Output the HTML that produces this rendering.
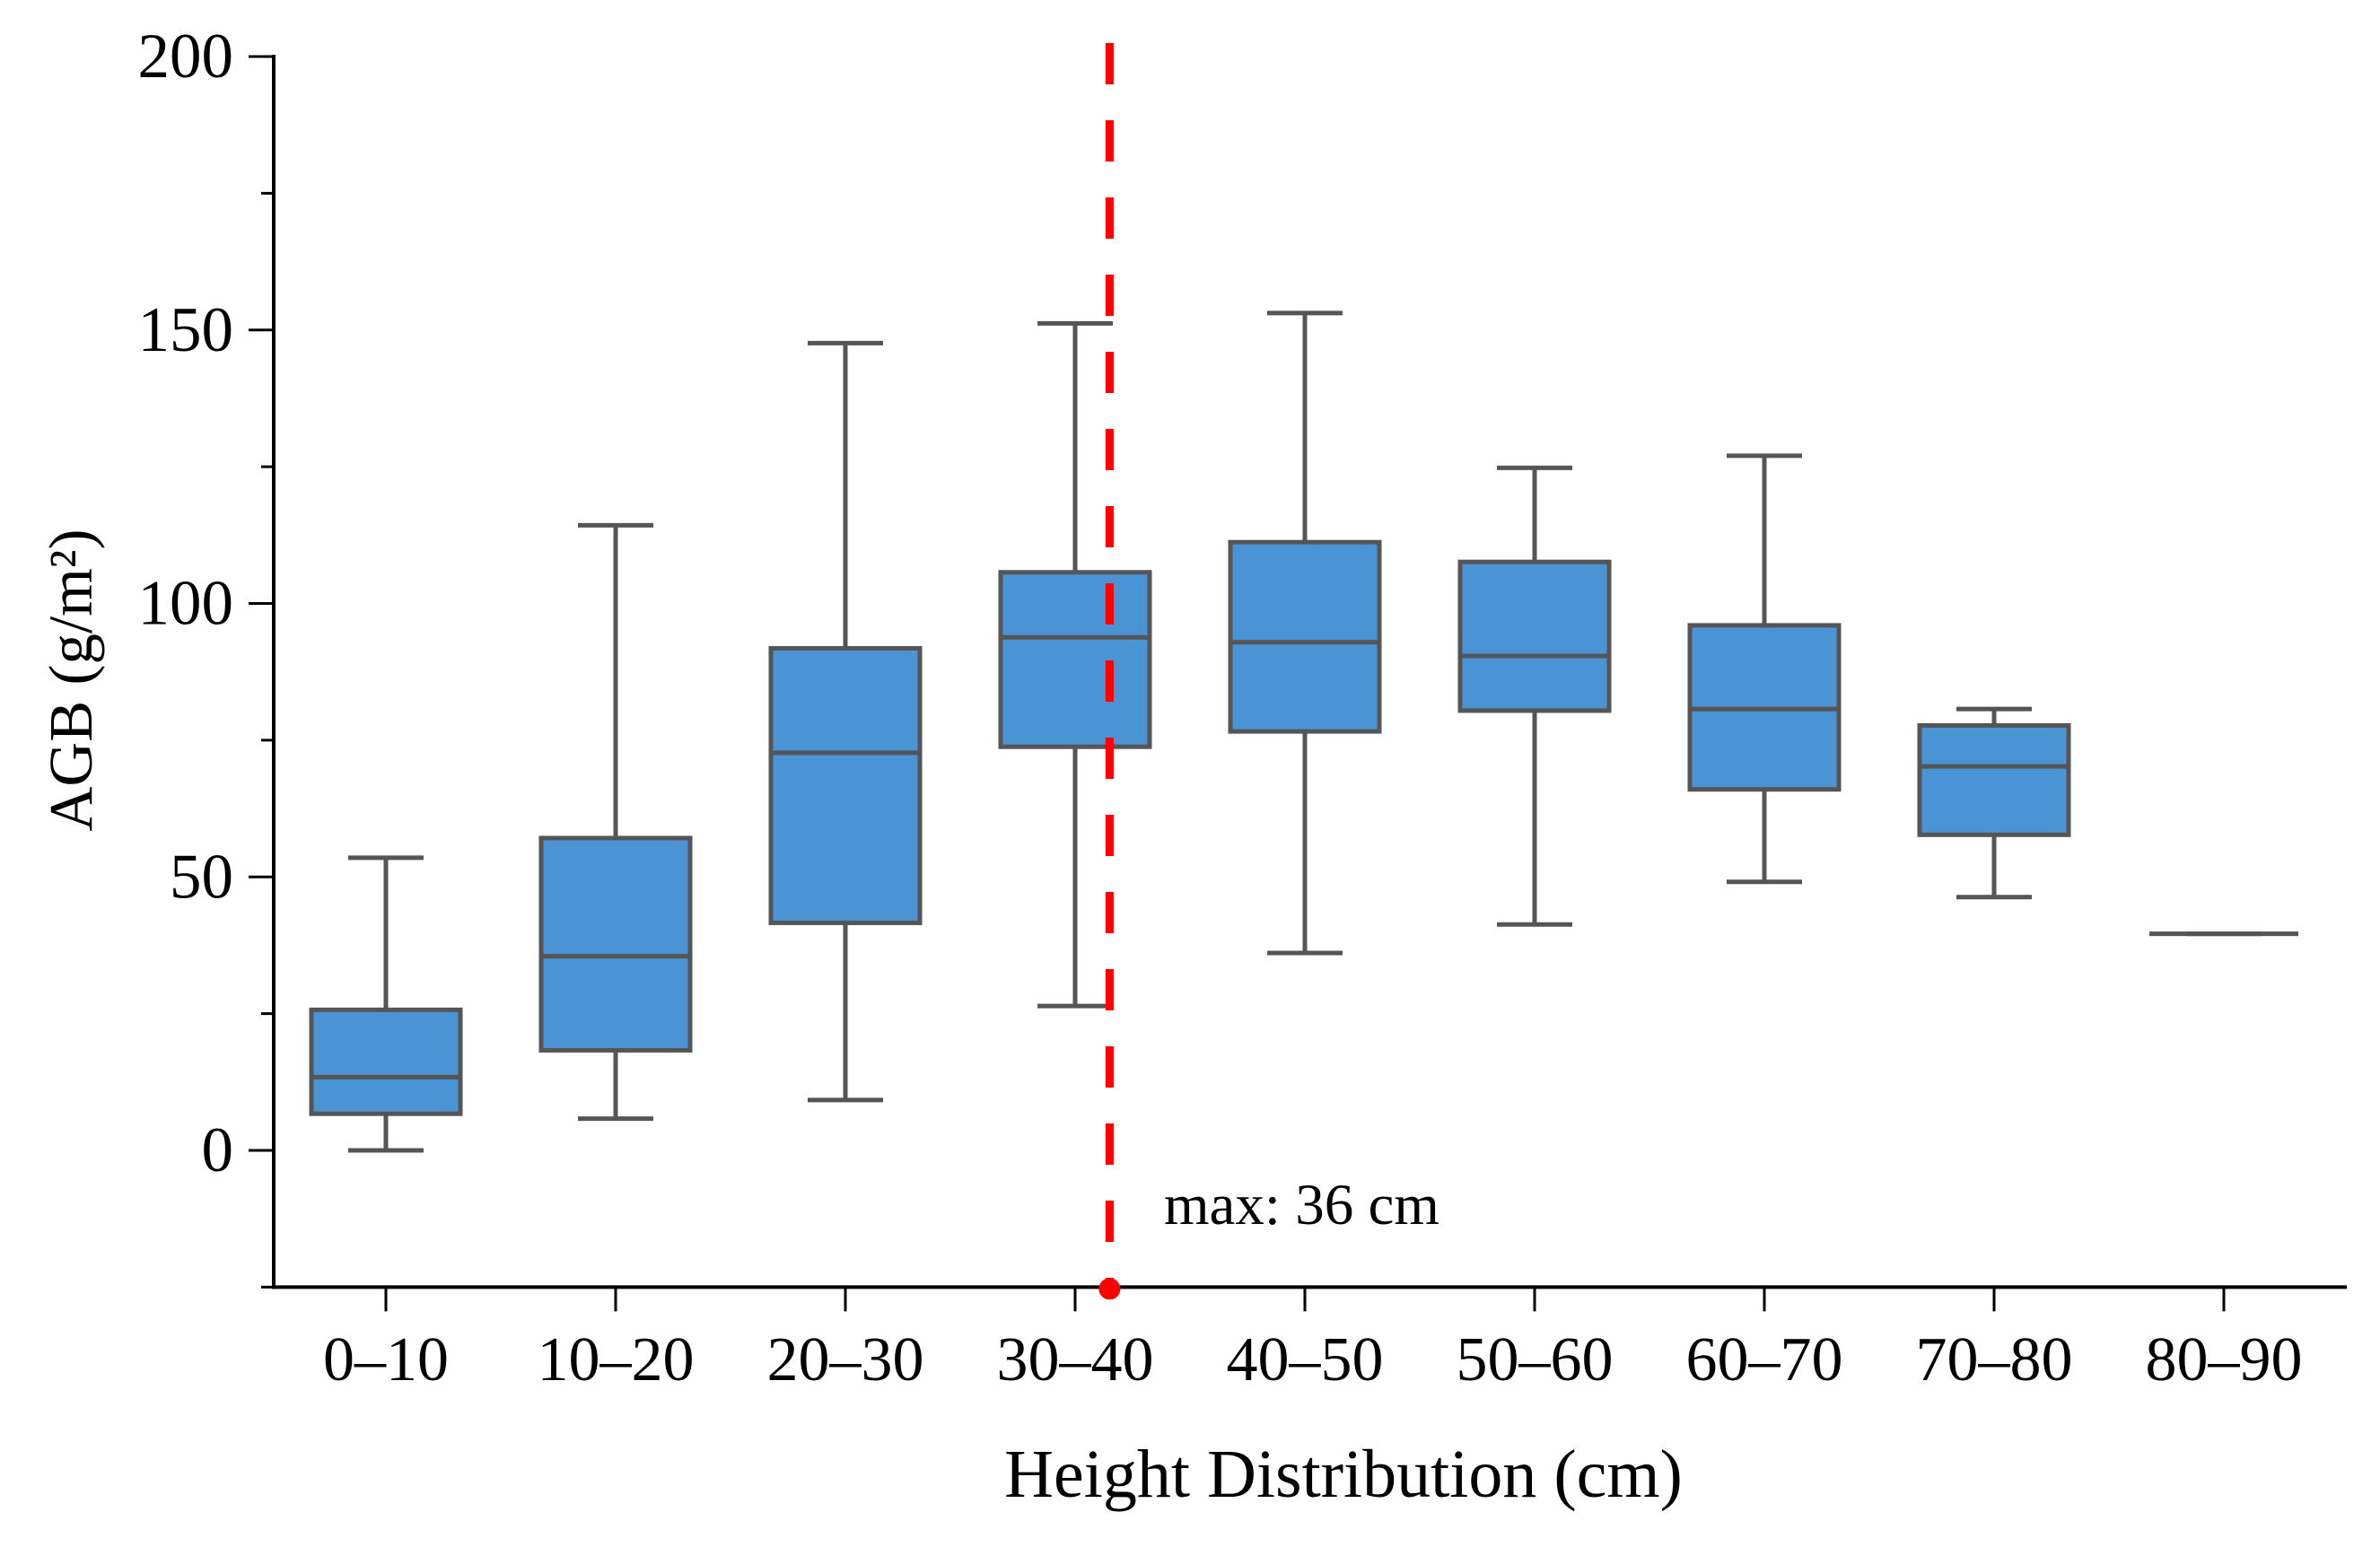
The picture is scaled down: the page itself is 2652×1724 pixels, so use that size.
<!DOCTYPE html>
<html><head><meta charset="utf-8"><style>
html,body{margin:0;padding:0;background:#fff;}
svg{display:block;font-family:"Liberation Serif",serif;}
</style></head><body>
<svg id="chart" width="2652" height="1724" viewBox="0 0 2652 1724" xmlns="http://www.w3.org/2000/svg">
<g id="axes"></g>
<g id="boxes"></g>
<g id="annot"></g>
</svg>
<script>
const categories = ["0–10","10–20","20–30","30–40","40–50","50–60","60–70","70–80","80–90"];
const whiskerLow = [0, 5.8, 9.2, 26.4, 36.1, 41.3, 49.1, 46.3, 39.6];
const q1Values = [6.7, 18.3, 41.6, 73.8, 76.6, 80.4, 66.0, 57.7, 39.6];
const medianValues = [13.4, 35.5, 72.7, 93.8, 92.9, 90.4, 80.7, 70.2, 39.6];
const q3Values = [25.7, 57.1, 91.8, 105.7, 111.2, 107.6, 96.0, 77.7, 39.6];
const whiskerHigh = [53.5, 114.3, 147.6, 151.2, 153.1, 124.8, 127.0, 80.7, 39.6];
const yTicks = [0, 50, 100, 150, 200];
const yMinorTicks = [-25, 25, 75, 125, 175];
const maxHeight = 36;

const NS = "http://www.w3.org/2000/svg";
const y0px = 1282, pxPerUnit = 6.095;
const yScale = v => y0px - v * pxPerUnit;
const x0 = 430, step = 256;
const xScale = i => x0 + i * step;
const xCont = h => x0 + (h - 4.5) / 10 * step;
const axisX = 305, axisBottom = yScale(-25), axisRight = 2615;

function mk(tag, attrs, parent, text) {
  const e = document.createElementNS(NS, tag);
  for (const k in attrs) e.setAttribute(k, attrs[k]);
  if (text !== undefined) e.textContent = text;
  parent.appendChild(e);
  return e;
}
const axes = document.getElementById("axes");
const boxes = document.getElementById("boxes");
const annot = document.getElementById("annot");

let e = mk("line", {x1: axisX, y1: yScale(200) - 2, x2: axisX, y2: axisBottom + 2, stroke: "#000", "stroke-width": 4}, axes);


e = mk("line", {x1: axisX - 2, y1: axisBottom, x2: axisRight, y2: axisBottom, stroke: "#000", "stroke-width": 4}, axes);



yTicks.forEach(v => {
  const y = yScale(v);
  let t = mk("line", {x1: axisX - 28, y1: y, x2: axisX, y2: y, stroke: "#000", "stroke-width": 3}, axes);
  
  
  let l = mk("text", {x: 260, y: y + 23, "text-anchor": "end", "font-size": 71}, axes, String(v));
  
  
});
yMinorTicks.forEach(v => {
  const y = yScale(v);
  let t = mk("line", {x1: axisX - 14, y1: y, x2: axisX, y2: y, stroke: "#000", "stroke-width": 3}, axes);
  
  
});

categories.forEach((c, i) => {
  const x = xScale(i);
  let t = mk("line", {x1: x, y1: axisBottom, x2: x, y2: axisBottom + 27, stroke: "#000", "stroke-width": 3}, axes);
  
  
  let l = mk("text", {x: x, y: 1538, "text-anchor": "middle", "font-size": 70}, axes, c);
  
  

  const g = mk("g", {}, boxes);
  
  
  const bw = 166, cw = 84, col = "#555555";
  mk("line", {x1: x, y1: yScale(whiskerHigh[i]), x2: x, y2: yScale(q3Values[i]), stroke: col, "stroke-width": 5}, g);
  mk("line", {x1: x, y1: yScale(q1Values[i]), x2: x, y2: yScale(whiskerLow[i]), stroke: col, "stroke-width": 5}, g);
  mk("line", {x1: x - cw/2, y1: yScale(whiskerHigh[i]), x2: x + cw/2, y2: yScale(whiskerHigh[i]), stroke: col, "stroke-width": 5}, g);
  mk("line", {x1: x - cw/2, y1: yScale(whiskerLow[i]), x2: x + cw/2, y2: yScale(whiskerLow[i]), stroke: col, "stroke-width": 5}, g);
  const top = yScale(q3Values[i]), bot = yScale(q1Values[i]);
  mk("rect", {x: x - bw/2, y: top, width: bw, height: Math.max(bot - top, 0), fill: "#4a93d5", stroke: col, "stroke-width": 5}, g);
  mk("line", {x1: x - bw/2, y1: yScale(medianValues[i]), x2: x + bw/2, y2: yScale(medianValues[i]), stroke: col, "stroke-width": 5}, g);
});

const rx = xCont(maxHeight);
e = mk("line", {x1: rx, y1: 48, x2: rx, y2: axisBottom, stroke: "#ff0000", "stroke-width": 9, "stroke-dasharray": "46 40"}, annot);


e = mk("circle", {cx: rx, cy: axisBottom + 2, r: 12, fill: "#ff0000"}, annot);


e = mk("text", {x: 1297, y: 1364, "font-size": 65}, annot, "max: " + maxHeight + " cm");



e = mk("text", {x: 1497, y: 1668, "text-anchor": "middle", "font-size": 76}, axes, "Height Distribution (cm)");


e = mk("text", {x: 0, y: 0, "text-anchor": "middle", "font-size": 69, transform: "translate(102,758) rotate(-90)"}, axes, "AGB (g/m²)");


</script>
</body></html>
